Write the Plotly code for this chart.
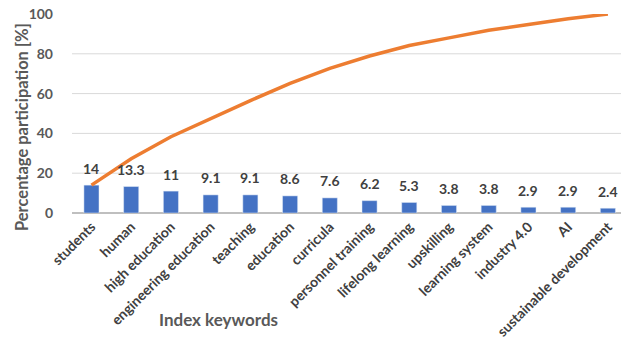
import plotly.graph_objects as go

# Index keyword frequencies (percent of records)
keywords = ["students", "human", "high education", "engineering education", "teaching",
            "education", "curricula", "personnel training", "lifelong learning", "upskilling",
            "learning system", "industry 4.0", "AI", "sustainable development"]
share = [14, 13.3, 11, 9.1, 9.1, 8.6, 7.6, 6.2, 5.3, 3.8, 3.8, 2.9, 2.9, 2.4]
y_ticks = [0, 20, 40, 60, 80, 100]

# Cumulative share for the Pareto line
cumulative = []
total = 0
for v in share:
    total += v
    cumulative.append(round(total, 1))

FONT = "Lato"
TXT = "#404040"
AX = "#595959"

fig = go.Figure()
fig.add_trace(go.Bar(x=keywords, y=share, marker_color="#4472C4", width=0.38,
                     showlegend=False))
fig.add_trace(go.Scatter(x=keywords, y=cumulative, mode="lines",
                         line=dict(color="#ED7D31", width=3.5), showlegend=False))

annotations = []
for k, v in zip(keywords, share):
    annotations.append(dict(x=k, y=v, text=f"<b>{v:g}</b>", showarrow=False,
                            yshift=17, font=dict(family=FONT, size=14, color=TXT)))
annotations.append(dict(xref="paper", yref="paper", x=-0.09, y=0.43, xanchor="center",
                        yanchor="middle", textangle=-90, showarrow=False,
                        text="<b>Percentage participation [%]</b>",
                        font=dict(family=FONT, size=16.5, color=AX)))
annotations.append(dict(xref="paper", yref="paper", x=0.267, y=-0.535, xanchor="center",
                        yanchor="middle", showarrow=False, text="<b>Index keywords</b>",
                        font=dict(family=FONT, size=17, color=AX)))

# Horizontal gridlines at the inner tick values
shapes = [dict(type="line", xref="paper", yref="y", x0=0, x1=1, y0=t, y1=t,
               line=dict(color="#D9D9D9", width=1), layer="below")
          for t in y_ticks[1:-1]]

fig.update_layout(
    width=621, height=342,
    margin=dict(l=72, r=0, t=14, b=129),
    paper_bgcolor="white", plot_bgcolor="white",
    font=dict(family=FONT, color=TXT),
    annotations=annotations,
    shapes=shapes,
    xaxis=dict(range=[-0.49, 13.33], tickangle=-45, showgrid=False, showline=False,
               ticks="", ticklabelstandoff=2, automargin=False,
               tickfont=dict(family=FONT, size=14, color=TXT, weight="bold")),
    yaxis=dict(range=[0, 100], tickvals=y_ticks, showgrid=False, automargin=False,
               zeroline=True, zerolinecolor="#BFBFBF", zerolinewidth=1.5,
               ticklabelstandoff=18,
               tickfont=dict(family=FONT, size=14, color=AX, weight="bold")),
)

fig.write_html("out.html")
